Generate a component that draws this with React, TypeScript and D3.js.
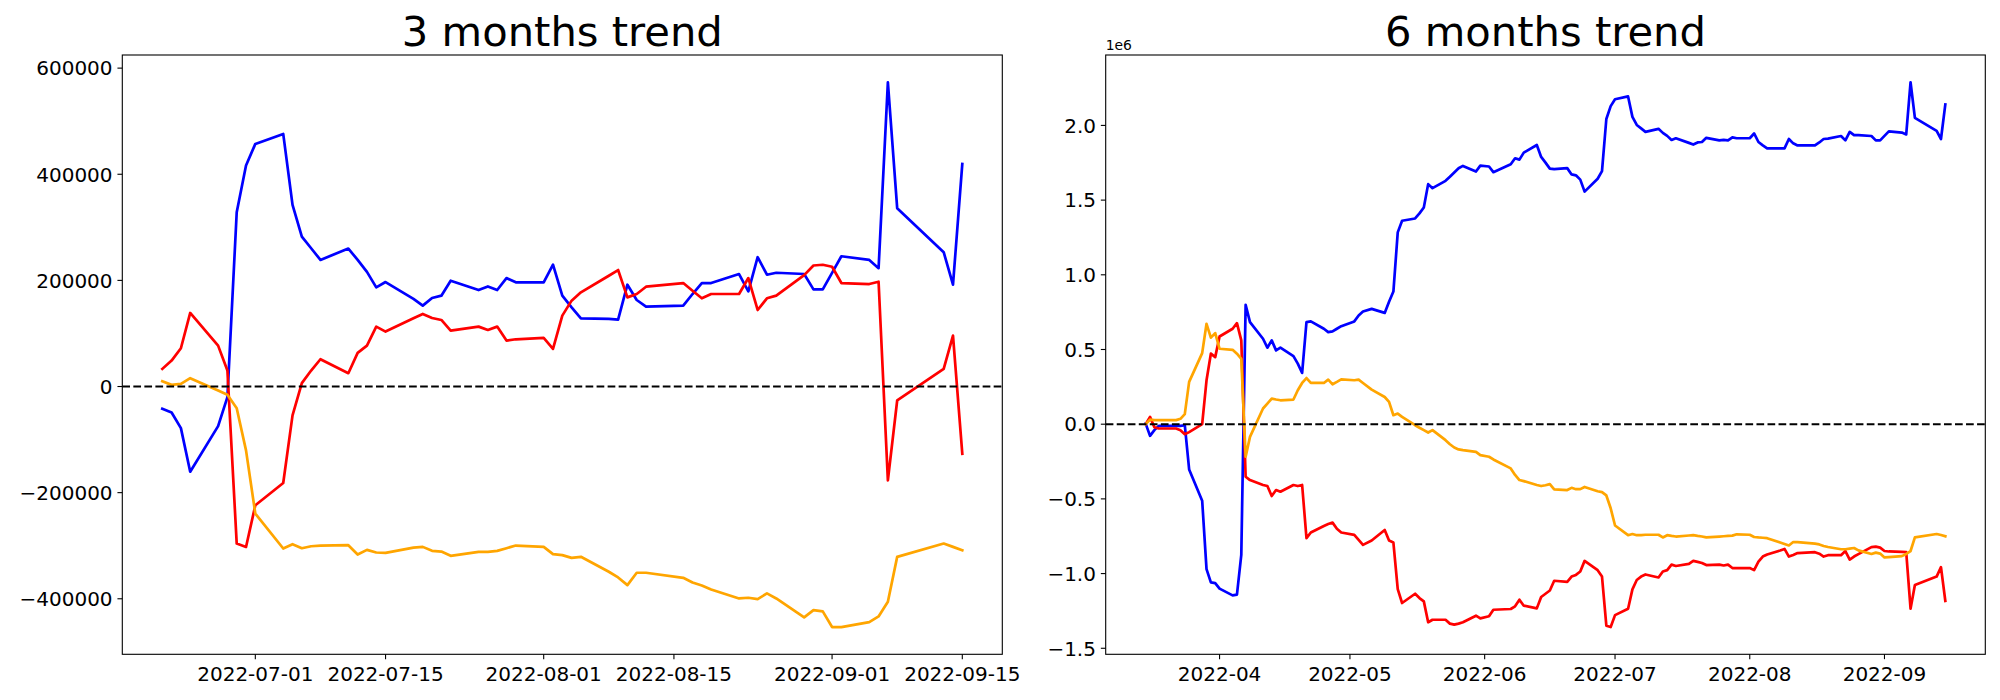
import * as d3 from 'd3';
import React, { useEffect, useRef } from 'react';

// ---- 3 months data (Korean trading days) ----
const dates3m = [
  '2022-06-21', '2022-06-22', '2022-06-23', '2022-06-24', '2022-06-27', '2022-06-28', '2022-06-29', '2022-06-30',
  '2022-07-01', '2022-07-04', '2022-07-05', '2022-07-06', '2022-07-07', '2022-07-08', '2022-07-11', '2022-07-12',
  '2022-07-13', '2022-07-14', '2022-07-15', '2022-07-18', '2022-07-19', '2022-07-20', '2022-07-21', '2022-07-22',
  '2022-07-25', '2022-07-26', '2022-07-27', '2022-07-28', '2022-07-29',
  '2022-08-01', '2022-08-02', '2022-08-03', '2022-08-04', '2022-08-05', '2022-08-08', '2022-08-09', '2022-08-10',
  '2022-08-11', '2022-08-12', '2022-08-16', '2022-08-17', '2022-08-18', '2022-08-19', '2022-08-22', '2022-08-23',
  '2022-08-24', '2022-08-25', '2022-08-26', '2022-08-29', '2022-08-30', '2022-08-31',
  '2022-09-01', '2022-09-02', '2022-09-05', '2022-09-06', '2022-09-07', '2022-09-08', '2022-09-13', '2022-09-14',
  '2022-09-15',
];
const blue3m = [
  -42000, -48900, -78400, -160500, -74600, -20000, 328400, 416400,
  457200, 476000, 342300, 282600, 260600, 238600, 260000, 238600,
  216000, 186800, 196900, 165000, 152400, 166800, 171200, 199400,
  181800, 188700, 181800, 204400, 196300,
  196300, 229500, 171200, 149200, 128500, 127300, 126000, 191900,
  163000, 150500, 152400, 174300, 195000, 195000, 212000, 179300,
  243700, 210700, 214400, 212000, 183000, 183000,
  214000, 245500, 238600, 223000, 573400, 336000, 253100, 191900,
  419500,
];
const red3m = [
  33200, 48900, 72100, 138600, 77100, 30100, -296000, -302300,
  -223800, -181800, -54500, 6300, 30100, 51400, 25100, 63300,
  77100, 112900, 103500, 128500, 136700, 129200, 125400, 105300,
  112900, 106600, 112900, 86500, 89000,
  91500, 70900, 133600, 161800, 177500, 208800, 219500, 168000,
  174300, 188100, 195000, 180600, 166200, 174300, 174300, 204400,
  144200, 166200, 171200, 210000, 228000, 229500,
  225700, 195000, 193100, 197500, -176800, -26300, 33200, 95900,
  -126700,
];
const orange3m = [
  10000, 3100, 5000, 15700, -7500, -15700, -40800, -120400,
  -239500, -305300, -297200, -304700, -301000, -300000, -299000, -316600,
  -307800, -312800, -313400, -303500, -302200, -309700, -311000, -319100,
  -311600, -311600, -309700, -304700, -299700,
  -302200, -315900, -317800, -322900, -320900, -349100, -359800, -374300,
  -351000, -351000, -360500, -369300, -374900, -382400, -399400, -398100,
  -400600, -389900, -399400, -435100, -421300, -423800,
  -453300, -453300, -443900, -433300, -405700, -321000, -295900, -302200,
  -308500,
];
const xTicks3m = ['2022-07-01', '2022-07-15', '2022-08-01', '2022-08-15', '2022-09-01', '2022-09-15'];
const yTicks3m = [-400000, -200000, 0, 200000, 400000, 600000];

// ---- 6 months data, values in units of 1e6 ----
const dates6m = [
  '2022-03-15', '2022-03-16', '2022-03-17', '2022-03-18', '2022-03-21', '2022-03-22', '2022-03-23', '2022-03-24',
  '2022-03-25', '2022-03-28', '2022-03-29', '2022-03-30', '2022-03-31',
  '2022-04-01', '2022-04-04', '2022-04-05', '2022-04-06', '2022-04-07', '2022-04-08', '2022-04-11', '2022-04-12',
  '2022-04-13', '2022-04-14', '2022-04-15', '2022-04-18', '2022-04-19', '2022-04-20', '2022-04-21', '2022-04-22',
  '2022-04-25', '2022-04-26', '2022-04-27', '2022-04-28', '2022-04-29',
  '2022-05-02', '2022-05-03', '2022-05-04', '2022-05-06', '2022-05-09', '2022-05-10', '2022-05-11', '2022-05-12',
  '2022-05-13', '2022-05-16', '2022-05-17', '2022-05-18', '2022-05-19', '2022-05-20', '2022-05-23', '2022-05-24',
  '2022-05-25', '2022-05-26', '2022-05-27', '2022-05-30', '2022-05-31',
  '2022-06-02', '2022-06-03', '2022-06-07', '2022-06-08', '2022-06-09', '2022-06-10', '2022-06-13', '2022-06-14',
  '2022-06-15', '2022-06-16', '2022-06-17', '2022-06-20', '2022-06-21', '2022-06-22', '2022-06-23', '2022-06-24',
  '2022-06-27', '2022-06-28', '2022-06-29', '2022-06-30',
  '2022-07-01', '2022-07-04', '2022-07-05', '2022-07-06', '2022-07-07', '2022-07-08', '2022-07-11', '2022-07-12',
  '2022-07-13', '2022-07-14', '2022-07-15', '2022-07-18', '2022-07-19', '2022-07-20', '2022-07-21', '2022-07-22',
  '2022-07-25', '2022-07-26', '2022-07-27', '2022-07-28', '2022-07-29',
  '2022-08-01', '2022-08-02', '2022-08-03', '2022-08-04', '2022-08-05', '2022-08-08', '2022-08-09', '2022-08-10',
  '2022-08-11', '2022-08-12', '2022-08-16', '2022-08-17', '2022-08-18', '2022-08-19', '2022-08-22', '2022-08-23',
  '2022-08-24', '2022-08-25', '2022-08-26', '2022-08-29', '2022-08-30', '2022-08-31',
  '2022-09-01', '2022-09-02', '2022-09-05', '2022-09-06', '2022-09-07', '2022-09-08', '2022-09-13', '2022-09-14',
  '2022-09-15',
];
const blue6m = [
  0.004, -0.078, -0.04, -0.011, -0.011, -0.011, -0.011, -0.007,
  -0.303, -0.512, -0.97, -1.059, -1.064,
  -1.101, -1.146, -1.141, -0.875, 0.799, 0.683, 0.572, 0.512,
  0.561, 0.494, 0.512, 0.456, 0.405, 0.343, 0.683, 0.688,
  0.639, 0.616, 0.621, 0.639, 0.656,
  0.688, 0.728, 0.754, 0.772, 0.745, 0.82, 0.888, 1.284,
  1.362, 1.377, 1.411, 1.451, 1.607, 1.58, 1.629, 1.656,
  1.685, 1.713, 1.729, 1.691, 1.731,
  1.725, 1.687, 1.74, 1.78, 1.771, 1.818, 1.869, 1.789,
  1.751, 1.711, 1.707, 1.714, 1.672, 1.666, 1.637, 1.557,
  1.643, 1.694, 2.043, 2.129,
  2.175, 2.194, 2.057, 2.003, 1.98, 1.957, 1.977, 1.95,
  1.93, 1.903, 1.914, 1.883, 1.872, 1.886, 1.889, 1.917,
  1.9, 1.903, 1.9, 1.92, 1.914,
  1.914, 1.946, 1.889, 1.866, 1.846, 1.846, 1.846, 1.909,
  1.88, 1.866, 1.866, 1.886, 1.909, 1.912, 1.929, 1.9,
  1.957, 1.935, 1.935, 1.929, 1.9, 1.9,
  1.93, 1.96, 1.952, 1.94, 2.289, 2.051, 1.963, 1.909,
  2.14,
];
const red6m = [
  0.0, 0.049, -0.02, -0.029, -0.029, -0.029, -0.04, -0.067,
  -0.053, 0.0, 0.294, 0.472, 0.449,
  0.587, 0.639, 0.676, 0.561, -0.352, -0.374, -0.407, -0.414,
  -0.481, -0.441, -0.452, -0.407, -0.414, -0.407, -0.763, -0.725,
  -0.681, -0.668, -0.659, -0.7, -0.725,
  -0.741, -0.774, -0.808, -0.779, -0.708, -0.779, -0.792, -1.104,
  -1.197, -1.135, -1.164, -1.186, -1.326, -1.309, -1.309, -1.335,
  -1.342, -1.335, -1.326, -1.282, -1.3,
  -1.286, -1.242, -1.237, -1.219, -1.175, -1.215, -1.233, -1.157,
  -1.135, -1.113, -1.048, -1.055, -1.02, -1.009, -0.986, -0.915,
  -0.977, -1.02, -1.349, -1.358,
  -1.278, -1.235, -1.106, -1.043, -1.02, -1.006, -1.026, -0.986,
  -0.977, -0.94, -0.949, -0.935, -0.915, -0.922, -0.929, -0.943,
  -0.94, -0.946, -0.94, -0.963, -0.963,
  -0.963, -0.977, -0.92, -0.886, -0.872, -0.845, -0.835, -0.886,
  -0.875, -0.863, -0.857, -0.867, -0.886, -0.877, -0.877, -0.849,
  -0.906, -0.886, -0.87, -0.823, -0.82, -0.826,
  -0.849, -0.852, -0.855, -0.857, -1.235, -1.077, -1.02, -0.957,
  -1.183,
];
const orange6m = [
  0.0, 0.031, 0.027, 0.027, 0.027, 0.027, 0.036, 0.067,
  0.283, 0.476, 0.672, 0.579, 0.61,
  0.505, 0.498, 0.472, 0.438, -0.218, -0.085, 0.105, 0.138,
  0.171, 0.165, 0.16, 0.165, 0.227, 0.276, 0.309, 0.276,
  0.276, 0.298, 0.267, 0.283, 0.3,
  0.294, 0.298, 0.276, 0.231, 0.182, 0.149, 0.06, 0.071,
  0.049, -0.007, -0.024, -0.04, -0.056, -0.04, -0.107, -0.134,
  -0.156, -0.169, -0.174, -0.185, -0.207,
  -0.218, -0.236, -0.296, -0.34, -0.374, -0.381, -0.407, -0.414,
  -0.409, -0.401, -0.436, -0.441, -0.426, -0.435, -0.435, -0.42,
  -0.449, -0.455, -0.477, -0.563,
  -0.678, -0.743, -0.735, -0.743, -0.742, -0.74, -0.74, -0.758,
  -0.743, -0.748, -0.752, -0.745, -0.743, -0.748, -0.752, -0.758,
  -0.752, -0.75, -0.748, -0.746, -0.737,
  -0.74, -0.755, -0.758, -0.76, -0.763, -0.792, -0.802, -0.812,
  -0.789, -0.79, -0.8, -0.805, -0.815, -0.822, -0.837, -0.837,
  -0.833, -0.829, -0.845, -0.869, -0.86, -0.866,
  -0.892, -0.89, -0.883, -0.869, -0.849, -0.758, -0.735, -0.742,
  -0.75,
];
const xTicks6m = ['2022-04-01', '2022-05-01', '2022-06-01', '2022-07-01', '2022-08-01', '2022-09-01'];
const yTicks6m = [-1.5, -1.0, -0.5, 0, 0.5, 1.0, 1.5, 2.0];

const FONT = 'DejaVu Sans, Verdana, sans-serif';
const LW = 2.7;
const DASH_LW = 2.08;
const TICK = 4.86;

type Panel = {
  title: string;
  left: number;
  right: number;
  dates: string[];
  series: { values: number[]; color: string }[];
  xTicks: string[];
  xFormat: (d: Date) => string;
  yTicks: number[];
  yFormat: (v: number) => string;
  offsetText?: string;
};

const TOP = 55;
const BOTTOM = 654.3;

function drawPanel(svg: d3.Selection<SVGSVGElement, unknown, null, undefined>, p: Panel) {
  const parse = d3.utcParse('%Y-%m-%d');
  const dates = p.dates.map((s) => parse(s) as Date);
  const t0 = +dates[0];
  const t1 = +dates[dates.length - 1];
  const tp = (t1 - t0) * 0.05;
  const x = d3.scaleUtc().domain([new Date(t0 - tp), new Date(t1 + tp)]).range([p.left, p.right]);

  const all = p.series.flatMap((s) => s.values);
  const lo = d3.min(all) as number;
  const hi = d3.max(all) as number;
  const vp = (hi - lo) * 0.05;
  const y = d3.scaleLinear().domain([lo - vp, hi + vp]).range([BOTTOM, TOP]);

  const g = svg.append('g');

  const line = d3
    .line<number>()
    .x((_, i) => x(dates[i]))
    .y((v) => y(v));

  p.series.forEach((s) => {
    g.append('path')
      .attr('d', line(s.values))
      .attr('fill', 'none')
      .attr('stroke', s.color)
      .attr('stroke-width', LW)
      .attr('stroke-linejoin', 'round')
      .attr('stroke-linecap', 'square');
  });

  // zero line
  g.append('line')
    .attr('x1', p.left)
    .attr('x2', p.right)
    .attr('y1', y(0))
    .attr('y2', y(0))
    .attr('stroke', 'black')
    .attr('stroke-width', DASH_LW)
    .attr('stroke-dasharray', '7.7,3.33');

  // x ticks
  p.xTicks.forEach((s) => {
    const d = parse(s) as Date;
    const xx = x(d);
    g.append('line')
      .attr('x1', xx).attr('x2', xx)
      .attr('y1', BOTTOM).attr('y2', BOTTOM + TICK)
      .attr('stroke', 'black').attr('stroke-width', 1.1);
    g.append('text')
      .attr('x', xx)
      .attr('y', BOTTOM + 26.5)
      .attr('text-anchor', 'middle')
      .attr('font-family', FONT)
      .attr('font-size', 20)
      .text(p.xFormat(d));
  });

  // y ticks
  p.yTicks.forEach((v) => {
    const yy = y(v);
    g.append('line')
      .attr('x1', p.left - TICK).attr('x2', p.left)
      .attr('y1', yy).attr('y2', yy)
      .attr('stroke', 'black').attr('stroke-width', 1.1);
    g.append('text')
      .attr('x', p.left - 2 * TICK)
      .attr('y', yy + 7.3)
      .attr('text-anchor', 'end')
      .attr('font-family', FONT)
      .attr('font-size', 20)
      .text(p.yFormat(v));
  });

  // frame
  g.append('rect')
    .attr('x', p.left)
    .attr('y', TOP)
    .attr('width', p.right - p.left)
    .attr('height', BOTTOM - TOP)
    .attr('fill', 'none')
    .attr('stroke', 'black')
    .attr('stroke-width', 1.1);

  g.append('text')
    .attr('x', (p.left + p.right) / 2)
    .attr('y', 46)
    .attr('text-anchor', 'middle')
    .attr('font-family', FONT)
    .attr('font-size', 41.67)
    .text(p.title);

  if (p.offsetText) {
    g.append('text')
      .attr('x', p.left)
      .attr('y', 50)
      .attr('font-family', FONT)
      .attr('font-size', 13.9)
      .text(p.offsetText);
  }
}

function TrendCharts() {
  const svgRef = useRef<SVGSVGElement>(null);

  useEffect(() => {
    const svg = d3.select(svgRef.current as SVGSVGElement);
    svg.selectAll('*').remove();
    svg.append('rect').attr('width', 2000).attr('height', 700).attr('fill', 'white');

    drawPanel(svg, {
      title: '3 months trend',
      left: 122.3,
      right: 1002.3,
      dates: dates3m,
      series: [
        { values: blue3m, color: '#0000ff' },
        { values: red3m, color: '#ff0000' },
        { values: orange3m, color: '#ffa500' },
      ],
      xTicks: xTicks3m,
      xFormat: d3.utcFormat('%Y-%m-%d'),
      yTicks: yTicks3m,
      yFormat: d3.format('d'),
    });

    drawPanel(svg, {
      title: '6 months trend',
      left: 1105.7,
      right: 1985.3,
      dates: dates6m,
      series: [
        { values: blue6m, color: '#0000ff' },
        { values: red6m, color: '#ff0000' },
        { values: orange6m, color: '#ffa500' },
      ],
      xTicks: xTicks6m,
      xFormat: d3.utcFormat('%Y-%m'),
      yTicks: yTicks6m,
      yFormat: d3.format('.1f'),
      offsetText: '1e6',
    });
  }, []);

  return (
    <svg
      ref={svgRef}
      width={2000}
      height={700}
      style={{ position: 'absolute', left: 0, top: 0, background: 'white' }}
    />
  );
}

export default function App() {
  return <TrendCharts />;
}
